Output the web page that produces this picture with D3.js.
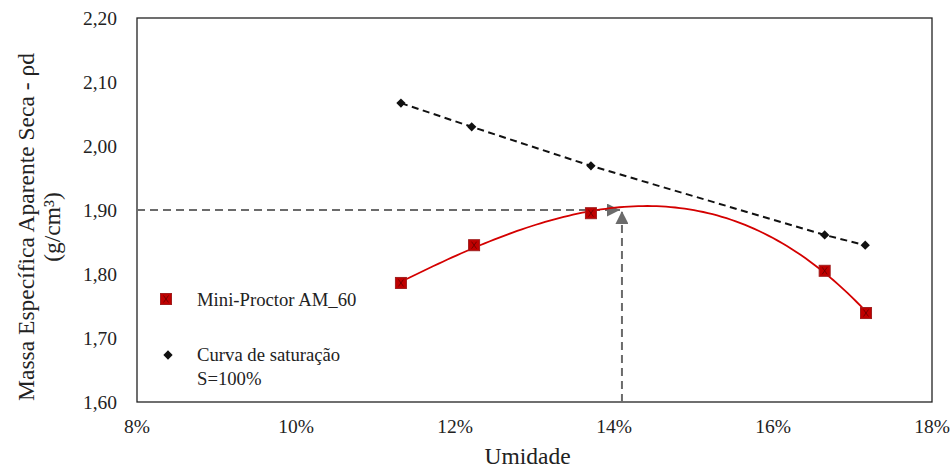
<!DOCTYPE html>
<meta charset="utf-8">
<title>Mini-Proctor AM_60</title>
<style>
  body { margin: 0; background: #fff; }
  text { font-family: "Liberation Serif", "Times New Roman", serif; fill: #222; }
</style>
<body>
<script src="https://cdn.jsdelivr.net/npm/d3@7"></script>
<script>

// moisture (fraction) and dry density (g/cm3)
var umidade   = [0.1132, 0.1224, 0.1371, 0.1665, 0.1717];
var densidade = [1.786, 1.845, 1.895, 1.805, 1.739];

var umidadeSat   = [0.1132, 0.1221, 0.1371, 0.1665, 0.1716];
var densidadeSat = [2.067, 2.030, 1.969, 1.861, 1.845];

var xTicks = [0.08, 0.10, 0.12, 0.14, 0.16, 0.18];
var yTicks = [1.60, 1.70, 1.80, 1.90, 2.00, 2.10, 2.20];

// optimum read on the chart (guide arrows)
var umidadeOtima = 0.1410,
    densidadeMax = 1.900;

var width = 952, height = 470,
    margin = {left: 137, right: 20, top: 18, bottom: 68};

var svg = d3.select("body").append("svg")
  .attr("width", width)
  .attr("height", height);

var x = d3.scaleLinear().domain([0.08, 0.18]).range([margin.left, width - margin.right]);
var y = d3.scaleLinear().domain([1.60, 2.20]).range([height - margin.bottom, margin.top]);

var fmtY = function(d) { return d3.format(".2f")(d).replace(".", ","); };
var fmtX = d3.format(".0%");

// frame
svg.append("rect")
  .attr("x", x(0.08)).attr("y", y(2.20))
  .attr("width", x(0.18) - x(0.08)).attr("height", y(1.60) - y(2.20))
  .attr("fill", "none").attr("stroke", "#222").attr("stroke-width", 1.3);

// tick labels (no tick marks in the original)
svg.append("g").selectAll("text").data(yTicks).enter().append("text")
  .attr("x", x(0.08) - 20).attr("y", d => y(d)).attr("dy", "0.35em")
  .attr("text-anchor", "end").style("font-size", "19.5px")
  .text(fmtY);

svg.append("g").selectAll("text").data(xTicks).enter().append("text")
  .attr("x", d => x(d)).attr("y", y(1.60) + 31)
  .attr("text-anchor", "middle").style("font-size", "19.5px")
  .text(fmtX);

// axis titles
svg.append("text")
  .attr("x", (x(0.08) + x(0.18)) / 2 - 7).attr("y", height - 6)
  .attr("text-anchor", "middle").style("font-size", "23.5px")
  .text("Umidade");

var yt = svg.append("text")
  .attr("transform", "translate(34,227) rotate(-90)")
  .attr("text-anchor", "middle").style("font-size", "23.5px");
yt.append("tspan").attr("x", 0).attr("y", 0).text("Massa Específica Aparente Seca - ρd");
yt.append("tspan").attr("x", 0).attr("y", 26).text("(g/cm³)");

// arrow marker
svg.append("defs").append("marker")
  .attr("id", "seta")
  .attr("viewBox", "0 0 10 10")
  .attr("refX", 10).attr("refY", 5)
  .attr("markerWidth", 6.5).attr("markerHeight", 6.5)
  .attr("markerUnits", "strokeWidth")
  .attr("orient", "auto")
  .append("path").attr("d", "M0,0L10,5L0,10Z").attr("fill", "#6b6b6b");

// guide lines to the optimum
svg.append("line")
  .attr("x1", x(0.08)).attr("y1", y(densidadeMax))
  .attr("x2", x(umidadeOtima) - 2).attr("y2", y(densidadeMax))
  .attr("stroke", "#6b6b6b").attr("stroke-width", 2)
  .attr("stroke-dasharray", "8,5")
  .attr("marker-end", "url(#seta)");

svg.append("line")
  .attr("x1", x(umidadeOtima)).attr("y1", y(1.60))
  .attr("x2", x(umidadeOtima)).attr("y2", y(densidadeMax) + 1)
  .attr("stroke", "#6b6b6b").attr("stroke-width", 2)
  .attr("stroke-dasharray", "8,5")
  .attr("marker-end", "url(#seta)");

// saturation curve
var lineSat = d3.line().x(d => x(d[0])).y(d => y(d[1]));
var sat = d3.zip(umidadeSat, densidadeSat);

svg.append("path")
  .datum(sat)
  .attr("d", lineSat)
  .attr("fill", "none").attr("stroke", "#111")
  .attr("stroke-width", 2).attr("stroke-dasharray", "7,4.5");

svg.append("g").selectAll("path").data(sat).enter().append("path")
  .attr("transform", d => "translate(" + x(d[0]) + "," + y(d[1]) + ")")
  .attr("d", d3.symbol(d3.symbolDiamond2, 55))
  .attr("fill", "#111");

// polynomial trendline (order 3, least squares) through the compaction points
function polyFit(xs, ys, order) {
  var n = order + 1, A = [], i, j, k;
  for (i = 0; i < n; i++) {
    A.push([]);
    for (j = 0; j < n; j++) A[i].push(d3.sum(xs, v => Math.pow(v, i + j)));
    A[i].push(d3.sum(xs, (v, t) => Math.pow(v, i) * ys[t]));
  }
  for (i = 0; i < n; i++) {
    var p = i;
    for (k = i + 1; k < n; k++) if (Math.abs(A[k][i]) > Math.abs(A[p][i])) p = k;
    var tmp = A[i]; A[i] = A[p]; A[p] = tmp;
    for (k = i + 1; k < n; k++) {
      var f = A[k][i] / A[i][i];
      for (j = i; j <= n; j++) A[k][j] -= f * A[i][j];
    }
  }
  var c = new Array(n);
  for (i = n - 1; i >= 0; i--) {
    var s = A[i][n];
    for (j = i + 1; j < n; j++) s -= A[i][j] * c[j];
    c[i] = s / A[i][i];
  }
  return c;
}

var x0 = 0.14;
var xsC = umidade.map(v => (v - x0) * 100);
var coef = polyFit(xsC, densidade, 3);
var xMin = d3.min(umidade), xMax = d3.max(umidade);
var trend = d3.range(0, 101).map(function(i) {
  var u = xMin + (xMax - xMin) * i / 100, t = (u - x0) * 100;
  return [u, coef[0] + coef[1] * t + coef[2] * t * t + coef[3] * t * t * t];
});

svg.append("path")
  .datum(trend)
  .attr("d", d3.line().x(d => x(d[0])).y(d => y(d[1])))
  .attr("fill", "none").attr("stroke", "#d40000").attr("stroke-width", 1.8);

// square marker with the small dark cross seen in the original
function marcador(g) {
  g.append("rect")
    .attr("x", -5.5).attr("y", -5.5).attr("width", 11).attr("height", 11)
    .attr("fill", "#c00000").attr("stroke", "#a02020").attr("stroke-width", 1);
  g.append("path")
    .attr("d", "M-2.5,-3.5L2.5,3.5M2.5,-3.5L-2.5,3.5")
    .attr("stroke", "#4a0000").attr("stroke-width", 0.9).attr("opacity", 0.7);
}

var proctor = d3.zip(umidade, densidade);
svg.append("g").selectAll("g").data(proctor).enter().append("g")
  .attr("transform", d => "translate(" + x(d[0]) + "," + y(d[1]) + ")")
  .call(marcador);

// legend
var leg = svg.append("g");
leg.append("g").attr("transform", "translate(166,299)").call(marcador);
leg.append("text").attr("x", 197).attr("y", 299).attr("dy", "0.35em")
  .style("font-size", "18.7px").text("Mini-Proctor AM_60");

leg.append("path")
  .attr("transform", "translate(168,355)")
  .attr("d", d3.symbol(d3.symbolDiamond2, 55))
  .attr("fill", "#111");
leg.append("text").attr("x", 197).attr("y", 354).attr("dy", "0.35em")
  .style("font-size", "18.7px").text("Curva de saturação");
leg.append("text").attr("x", 197).attr("y", 378).attr("dy", "0.35em")
  .style("font-size", "18.7px").text("S=100%");

</script>
</body>
</html>
